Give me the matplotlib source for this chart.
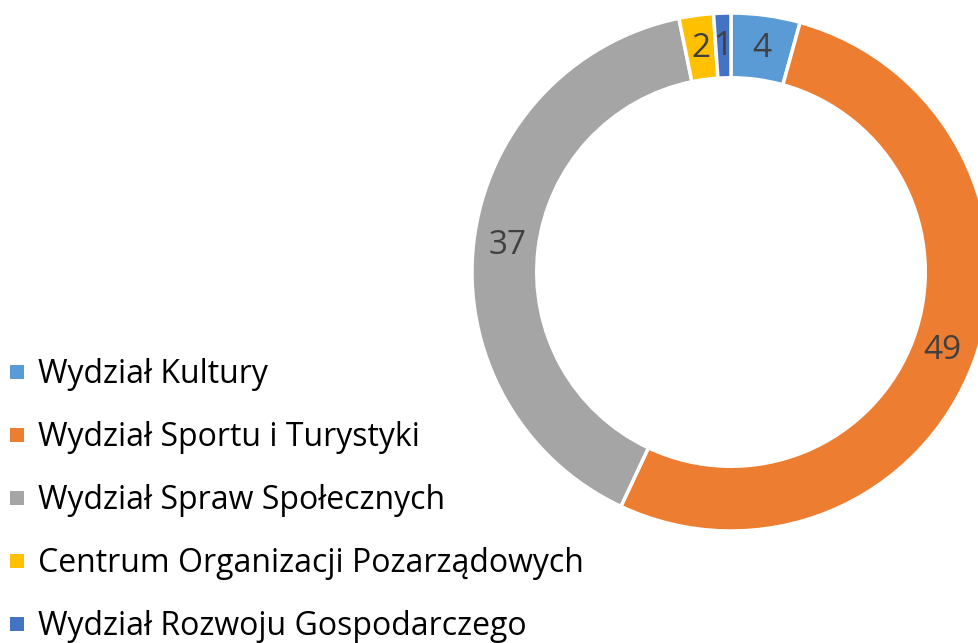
import matplotlib
matplotlib.use('Agg')
import matplotlib.pyplot as plt
from matplotlib.patches import Rectangle
import numpy as np

labels = ['Wydział Kultury', 'Wydział Sportu i Turystyki',
          'Wydział Spraw Społecznych', 'Centrum Organizacji Pozarządowych',
          'Wydział Rozwoju Gospodarczego']
values = [4, 49, 37, 2, 1]
colors = ['#5B9BD5', '#ED7D31', '#A5A5A5', '#FFC000', '#4472C4']

plt.rcParams['font.family'] = ['Open Sans', 'DejaVu Sans']

W, H = 979, 643
fig = plt.figure(figsize=(W / 100, H / 100), dpi=100)

# donut axes: center (731, 272) px from top-left, radius 259 px
cx, cy, r = 731, 272, 259
ax = fig.add_axes([(cx - r) / W, (H - cy - r) / H, 2 * r / W, 2 * r / H])
wedges, _ = ax.pie(values, colors=colors, startangle=90, counterclock=False,
                   radius=1, wedgeprops=dict(width=0.25, edgecolor='white',
                                             linewidth=2.5))
ax.set_xlim(-1, 1)
ax.set_ylim(-1, 1)
ax.set_aspect('equal')
ax.axis('off')

total = sum(values)
start = 90.0
for v in values:
    mid = np.deg2rad(start - v / total * 360 / 2)
    ax.text(0.87 * np.cos(mid), 0.87 * np.sin(mid), str(v),
            ha='center', va='center', fontsize=24, color='#404040')
    start -= v / total * 360

# legend
for i, (lab, col) in enumerate(zip(labels, colors)):
    yc = 372 + 63 * i
    fig.add_artist(Rectangle((10 / W, (H - yc - 7) / H), 14 / W, 14 / H,
                             transform=fig.transFigure, color=col, lw=0))
    fig.text(38 / W, (H - yc - 11) / H, lab, ha='left', va='baseline',
             fontsize=23, color='black')

fig.savefig('out.png', dpi=100)
